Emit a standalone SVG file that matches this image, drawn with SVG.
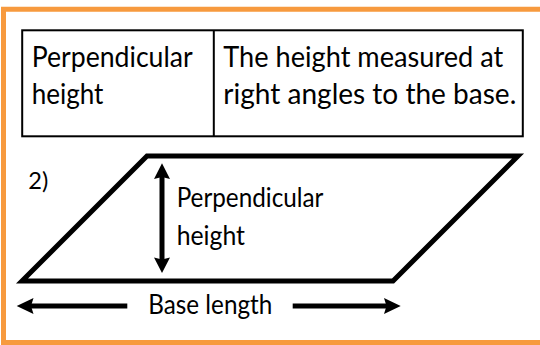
<svg xmlns="http://www.w3.org/2000/svg" width="540" height="345" viewBox="0 0 540 345">
  <defs>
    <style>
      .txt { font-family: Lato, "Open Sans", "Liberation Sans", sans-serif; fill: #000; }
      .t28 { font-size: 28px; }
      .t26 { font-size: 26px; }
      .cell { fill: none; stroke: #000; stroke-width: 2; }
      .shape { fill: none; stroke: #000; stroke-width: 5; stroke-linejoin: miter; }
      .shaft { stroke: #000; stroke-width: 5; fill: none; }
      .head { fill: #000; stroke: none; }
    </style>
  </defs>
  <rect x="0" y="0" width="540" height="345" fill="#fff"/>
  <g id="frame">
    <path d="M 545 9.2 H 3.5 V 342.5 H 545" fill="none" stroke="#F79A3E" stroke-width="5"/>
  </g>
  <g id="table">
    <rect class="cell" x="22.2" y="30.3" width="500.6" height="106"/>
    <line class="cell" x1="213.8" y1="30.3" x2="213.8" y2="136.3"/>
    <text class="txt t28" x="31.7" y="66.5" textLength="161" lengthAdjust="spacingAndGlyphs">Perpendicular</text>
    <text class="txt t28" x="31.7" y="104" textLength="71.7" lengthAdjust="spacingAndGlyphs">height</text>
    <text class="txt t28" x="223.3" y="66.5" textLength="280" lengthAdjust="spacingAndGlyphs">The height measured at</text>
    <text class="txt t28" x="223.3" y="104" textLength="293" lengthAdjust="spacingAndGlyphs">right angles to the base.</text>
  </g>
  <g id="label-2">
    <text class="txt" font-size="24" x="28.3" y="189" textLength="20" lengthAdjust="spacingAndGlyphs">2)</text>
  </g>
  <g id="parallelogram">
    <polygon class="shape" points="147,156 518,156 393,281 22,281"/>
  </g>
  <g id="height-label">
    <text class="txt t26" x="176.7" y="207.3" textLength="146.7" lengthAdjust="spacingAndGlyphs">Perpendicular</text>
    <text class="txt t26" x="176.7" y="245" textLength="68.3" lengthAdjust="spacingAndGlyphs">height</text>
  </g>
  <g id="base-label">
    <text class="txt t26" x="148.3" y="314" textLength="124" lengthAdjust="spacingAndGlyphs">Base length</text>
  </g>
  <g id="connectors">
    <g id="height-arrow">
      <line class="shaft" x1="162" y1="176" x2="162" y2="260"/>
      <polygon class="head" points="162,163.3 170,179 162,177 154,179"/>
      <polygon class="head" points="162,273 170,257.5 162,259.5 154,257.5"/>
    </g>
    <g id="base-arrow-left">
      <line class="shaft" x1="30" y1="306" x2="127.3" y2="306"/>
      <polygon class="head" points="16.7,306 33.5,298 31,306 33.5,314"/>
    </g>
    <g id="base-arrow-right">
      <line class="shaft" x1="292.7" y1="306" x2="388" y2="306"/>
      <polygon class="head" points="400.7,306 384,298 386.5,306 384,314"/>
    </g>
  </g>
</svg>
